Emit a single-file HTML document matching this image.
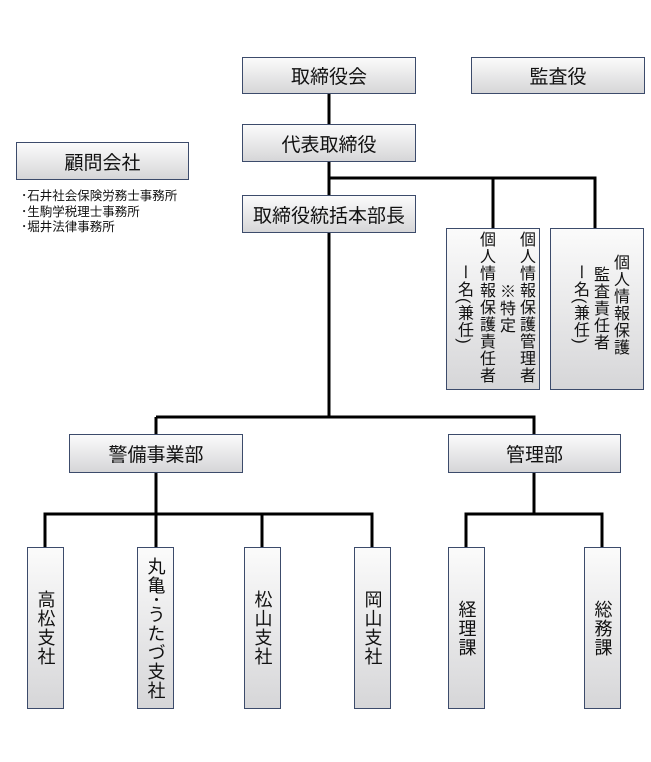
<!DOCTYPE html>
<html><head><meta charset="utf-8"><style>
body{margin:0;background:#fff;width:651px;height:762px;position:relative;overflow:hidden;font-family:"Liberation Sans","Noto Sans CJK JP",sans-serif;color:#111}
.b{position:absolute;box-sizing:border-box;border:1.5px solid #3c4b6b;background:linear-gradient(#fbfbfb,#d6d6d8);display:flex;align-items:center;justify-content:center;font-size:19px}
.v{writing-mode:vertical-rl;font-size:18px;line-height:20px;letter-spacing:1px}
.c{position:absolute;writing-mode:vertical-rl;font-size:16px;line-height:20px;letter-spacing:1px}
svg{position:absolute;left:0;top:0}
.l{position:absolute;left:21px;font-size:12.5px;line-height:15.5px}
</style></head><body>
<svg width="651" height="762">
<g stroke="#000" stroke-width="3" fill="none">
<path d="M329 94V124M329 162V417M329 178H595V228M493 178V228"/>
<path d="M156 417H534V434M156 417V434"/>
<path d="M156 473V514M45 547V514H372V547M156 514V547M262 514V547"/>
<path d="M534 473V514M466 547V514H602V547"/>
</g></svg>
<div class="b" style="left:242px;top:57px;width:174px;height:37px">取締役会</div>
<div class="b" style="left:471px;top:57px;width:174px;height:37px">監査役</div>
<div class="b" style="left:242px;top:124px;width:174px;height:38px">代表取締役</div>
<div class="b" style="left:242px;top:195px;width:174px;height:38px">取締役統括本部長</div>
<div class="b" style="left:16px;top:142px;width:173px;height:38px">顧問会社</div>
<div class="l" style="top:189px">･石井社会保険労務士事務所</div>
<div class="l" style="top:204.5px">･生駒学税理士事務所</div>
<div class="l" style="top:220px">･堀井法律事務所</div>
<div class="b" style="left:446px;top:228px;width:94px;height:162px"></div>
<div class="c" style="left:515px;top:231px">個人情報保護管理者</div>
<div class="c" style="left:495px;top:283px">※特定</div>
<div class="c" style="left:475px;top:231px">個人情報保護責任者</div>
<div class="c" style="left:453px;top:264px">ー名(兼任)</div>
<div class="b" style="left:550px;top:228px;width:94px;height:162px"></div>
<div class="c" style="left:609px;top:254px">個人情報保護</div>
<div class="c" style="left:589px;top:266px">監査責任者</div>
<div class="c" style="left:569px;top:264px">ー名(兼任)</div>
<div class="b" style="left:69px;top:434px;width:174px;height:39px">警備事業部</div>
<div class="b" style="left:448px;top:434px;width:173px;height:39px">管理部</div>
<div class="b" style="left:27px;top:547px;width:37px;height:162px"><span class="v">高松支社</span></div>
<div class="b" style="left:137px;top:547px;width:37px;height:162px"><span class="v">丸亀･うたづ支社</span></div>
<div class="b" style="left:244px;top:547px;width:37px;height:162px"><span class="v">松山支社</span></div>
<div class="b" style="left:354px;top:547px;width:37px;height:162px"><span class="v">岡山支社</span></div>
<div class="b" style="left:448px;top:547px;width:37px;height:162px"><span class="v">経理課</span></div>
<div class="b" style="left:584px;top:547px;width:37px;height:162px"><span class="v">総務課</span></div>
</body></html>
